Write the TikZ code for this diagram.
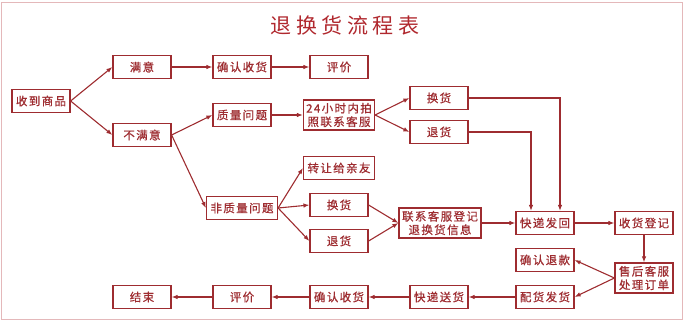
\documentclass[tikz,border=0pt]{standalone}
\usepackage{fontspec}
\newfontfamily\cjk[LetterSpace=12,FakeBold=0.6]{Noto Sans CJK SC}
\newfontfamily\cjktitle[LetterSpace=22]{Noto Sans CJK SC}
\usetikzlibrary{arrows.meta}
\definecolor{dred}{RGB}{158,44,48}
\definecolor{framec}{RGB}{228,184,186}
\definecolor{titlec}{RGB}{176,40,46}
\begin{document}
\begin{tikzpicture}[x=1pt,y=-1pt,
  box/.style={draw=dred,line width=1.2pt,fill=white,inner sep=0pt,
    font=\cjk\fontsize{11.5}{13.5}\selectfont,text=dred,align=center,
    minimum width=58pt,minimum height=23pt},
  wide/.style={minimum width=71pt},
  tall/.style={minimum height=30pt},
  arr/.style={draw=dred,line width=1.1pt,-{Latex[length=6pt,width=4.5pt]}}]
\useasboundingbox (0,0) rectangle (687,326);
\draw[framec,line width=1pt] (1.5,2.5) rectangle (682,319);
\node[font=\cjktitle\fontsize{21}{24}\selectfont,text=titlec] (title) at (345,25) {退换货流程表};

% row 1
\node[box] (shou) at (41,101) {收到商品};
\node[box] (my) at (142,67) {满意};
\node[box] (qr1) at (242,67) {确认收货};
\node[box] (pj1) at (339,67) {评价};
% unsatisfied
\node[box] (bmy) at (142,135) {不满意};
\node[box] (zl) at (242,115) {质量问题};
\node[box,wide,tall] (h24) at (339,115) {24小时内拍\\照联系客服};
\node[box] (hh1) at (439,98) {换货};
\node[box] (th1) at (439,132) {退货};
% non-quality
\node[box,wide] (zr) at (339,168) {转让给亲友};
\node[box,wide] (fzl) at (242,208) {非质量问题};
\node[box] (hh2) at (339,205) {换货};
\node[box] (th2) at (339,241) {退货};
\node[box,tall,minimum width=82pt] (lx) at (440,223) {联系客服登记\\退换货信息};
\node[box] (kdfh) at (545,223) {快递发回};
\node[box] (shdj) at (644,223) {收货登记};
\node[box] (qrtk) at (545,260) {确认退款};
\node[box,tall] (shkf) at (644,278) {售后客服\\处理订单};
% bottom row
\node[box] (phfh) at (545,297) {配货发货};
\node[box] (kdsh) at (439,297) {快递送货};
\node[box] (qr2) at (339,297) {确认收货};
\node[box] (pj2) at (242,297) {评价};
\node[box] (js) at (142,297) {结束};

% connectors
\draw[arr] (shou.east) -- (my.west);
\draw[arr] (shou.east) -- (bmy.west);
\draw[arr] (my) -- (qr1);
\draw[arr] (qr1) -- (pj1);
\draw[arr] (bmy.east) -- (zl.west);
\draw[arr] (bmy.east) -- (fzl.west);
\draw[arr] (zl) -- (h24);
\draw[arr] (h24.east) -- (hh1.west);
\draw[arr] (h24.east) -- (th1.west);
\draw[arr] (hh1.east) -| ([xshift=15pt]kdfh.north);
\draw[arr] (th1.east) -| ([xshift=-14pt]kdfh.north);
\draw[arr] (fzl.east) -- (zr.west);
\draw[arr] (fzl.east) -- (hh2.west);
\draw[arr] (fzl.east) -- (th2.west);
\draw[arr] (hh2.east) -- (lx.west);
\draw[arr] (th2.east) -- (lx.west);
\draw[arr] (lx) -- (kdfh);
\draw[arr] (kdfh) -- (shdj);
\draw[arr] (shdj) -- (shkf);
\draw[arr] (shkf.west) -- (qrtk.east);
\draw[arr] (shkf.west) -- (phfh.east);
\draw[arr] (phfh) -- (kdsh);
\draw[arr] (kdsh) -- (qr2);
\draw[arr] (qr2) -- (pj2);
\draw[arr] (pj2) -- (js);
\end{tikzpicture}
\end{document}
